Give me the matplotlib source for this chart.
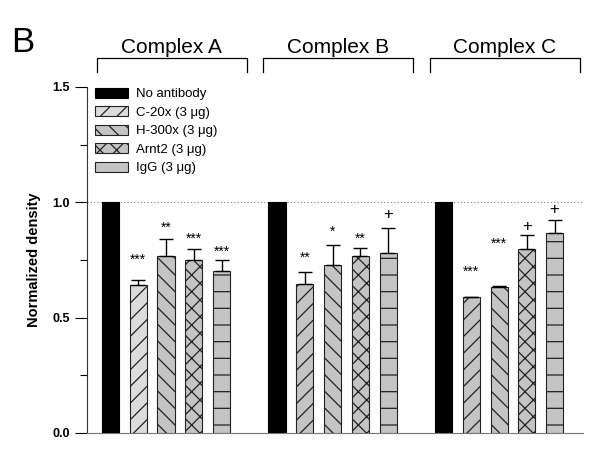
import numpy as np
import matplotlib
matplotlib.use('Agg')
from matplotlib import pyplot as plt
from matplotlib.patches import Patch

plt.rcParams.update({
  "font.family": ['Liberation Sans', 'DejaVu Sans'],
  "hatch.linewidth": 0.9,
})

complexes = ['Complex A', 'Complex B', 'Complex C']
conditions = ['No antibody', 'C-20x (3 \u03bcg)', 'H-300x (3 \u03bcg)',
              'Arnt2 (3 \u03bcg)', 'IgG (3 \u03bcg)']

# mean density per complex, in order of conditions
means = [
  [1.0, 0.64, 0.766, 0.751, 0.700],
  [1.0, 0.645, 0.727, 0.767, 0.779],
  [1.0, 0.588, 0.633, 0.798, 0.866],
]
errs = [
  [0.0, 0.022, 0.074, 0.044, 0.050],
  [0.0, 0.052, 0.087, 0.033, 0.107],
  [0.0, 0.003, 0.004, 0.060, 0.059],
]
marks = [
  ['', '***', '**', '***', '***'],
  ['', '**', '*', '**', '+'],
  ['', '***', '***', '+', '+'],
]
mark_y = [
  [0, 0.750, 0.889, 0.841, 0.786],
  [0, 0.757, 0.873, 0.841, 0.945],
  [0, 0.698, 0.819, 0.894, 0.967],
]

faces = ['black', '#dcdcdc', '#c4c4c4', '#c4c4c4', '#c4c4c4']
c20_face = ['#dcdcdc', '#c4c4c4', '#c4c4c4']   # C-20x bar fill differs per complex
hatches = [None, '//', '\\\\', 'xx', '-']

fig = plt.figure(figsize=(6, 4.5), dpi=100)
ax = fig.add_axes([0.145, 0.038, 0.827, 0.769])

group_gap = 6
width = 0.62
for g in range(len(complexes)):
    for i in range(len(conditions)):
        x = g * group_gap + i
        fc = c20_face[g] if i == 1 else faces[i]
        ax.bar(x, means[g][i], width=width, color=fc, hatch=hatches[i],
               edgecolor='black' if i == 0 else '#222222', linewidth=0.8, zorder=3)
        if errs[g][i] > 0:
            ax.errorbar(x, means[g][i], yerr=[[0], [errs[g][i]]], fmt='none',
                        ecolor='black', elinewidth=1.0, capsize=5, capthick=1.0, zorder=4)
        if marks[g][i]:
            fs = 12 if marks[g][i] == '+' else 10
            ax.text(x, mark_y[g][i], marks[g][i], ha='center', va='center',
                    fontsize=fs, zorder=5)
    # bracket with the complex name above the group
    x0 = g * group_gap - 0.5
    x1 = g * group_gap + 4.9
    ax.plot([x0, x0, x1, x1], [1.565, 1.625, 1.625, 1.565], color='black',
            lw=0.9, clip_on=False)
    ax.text((x0 + x1) / 2, 1.628, complexes[g], ha='center', va='bottom',
            fontsize=15)

ax.axhline(1.0, color='gray', ls=(0, (1, 2)), lw=0.8, zorder=1)

ax.set_xlim(-0.85, 17.03)
ax.set_ylim(0, 1.5)
ax.set_yticks([0, 0.5, 1.0, 1.5])
ax.set_yticklabels(['0.0', '0.5', '1.0', '1.5'], fontweight='bold', fontsize=9)
ax.set_yticks([0.25, 0.75, 1.25], minor=True)
ax.tick_params(axis='y', which='major', direction='out', length=9, width=0.8)
ax.tick_params(axis='y', which='minor', direction='out', length=5, width=0.8)
ax.set_xticks([])
ax.set_ylabel('Normalized density', fontweight='bold', fontsize=10.5, labelpad=8)

for s in ['top', 'right']:
    ax.spines[s].set_visible(False)
ax.spines['left'].set_color('#333333')
ax.spines['bottom'].set_color('#777777')

handles = [Patch(facecolor=faces[i], hatch=hatches[i],
                 edgecolor='black' if i == 0 else '#222222', linewidth=0.8)
           for i in range(len(conditions))]
ax.legend(handles, conditions, loc='upper left', bbox_to_anchor=(0.0, 1.02),
          frameon=False, fontsize=9.5, handlelength=2.5, handleheight=0.75,
          handletextpad=0.6, labelspacing=0.46, borderaxespad=0.2)

fig.text(0.018, 0.885, 'B', fontsize=25)

fig.savefig('out.png', dpi=100)
